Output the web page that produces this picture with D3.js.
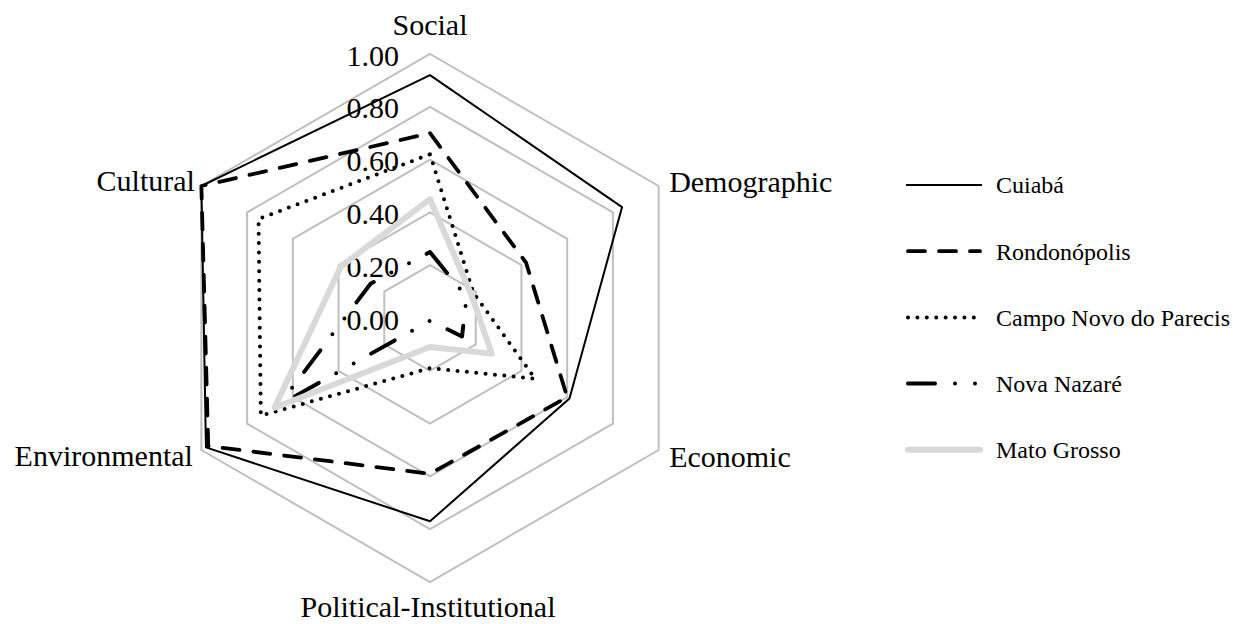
<!DOCTYPE html>
<html>
<head>
<meta charset="utf-8">
<script src="https://cdn.jsdelivr.net/npm/d3@7"></script>
<style>
  body { margin: 0; background: #fff; }
  text { font-family: "Liberation Serif", "Times New Roman", serif; fill: #000; }
</style>
</head>
<body>
<div id="chart"></div>
<script>
// data
const axes = ['Social', 'Demographic', 'Economic', 'Political-Institutional', 'Environmental', 'Cultural']
const tickValues = [0, 0.2, 0.4, 0.6, 0.8, 1.0]
const seriesNames = ['Cuiabá', 'Rondonópolis', 'Campo Novo do Parecis', 'Nova Nazaré', 'Mato Grosso']
const cuiaba = [0.92, 0.84, 0.61, 0.77, 0.98, 1.00]
const rondonopolis = [0.70, 0.42, 0.60, 0.59, 0.97, 1.00]
const campoNovo = [0.62, 0.19, 0.46, 0.19, 0.74, 0.75]
const novaNazare = [0.25, 0.16, 0.14, 0.01, 0.66, 0.26]
const matoGrosso = [0.45, 0.18, 0.27, 0.11, 0.68, 0.39]

const seriesValues = [cuiaba, rondonopolis, campoNovo, novaNazare, matoGrosso]

// how each series is drawn (Excel-like line styles)
const styles = [
  { color: '#000', width: 2, dash: null, cap: 'butt' },
  { color: '#000', width: 3.8, dash: '17,14', cap: 'round' },
  { color: '#000', width: 4, dash: '0,9.4', cap: 'round' },
  { color: '#000', width: 4, dash: '27,20,0,20,0,20', cap: 'round' },
  { color: '#d9d9d9', width: 6, dash: null, cap: 'round' }
]

var width = 1235, height = 624
var cx = 430, cy = 318

var svg = d3.select('#chart').append('svg')
    .attr('width', width)
    .attr('height', height)

var r = d3.scaleLinear().domain([0, 1]).range([0, 264])
var angle = d3.scaleLinear().domain([0, axes.length]).range([0, 2 * Math.PI])

var g = svg.append('g').attr('transform', 'translate(' + cx + ',' + cy + ')')

var radial = d3.lineRadial()
    .angle((d, i) => angle(i))
    .radius(d => r(d))
    .curve(d3.curveLinearClosed)

// grid rings
g.selectAll('.ring')
  .data(tickValues.filter(t => t > 0))
  .enter().append('path')
    .attr('class', 'ring')
    .attr('d', t => radial(axes.map(() => t)))
    .attr('fill', 'none')
    .attr('stroke', '#bfbfbf')
    .attr('stroke-width', 2)

// tick labels along the Social axis
g.selectAll('.tick')
  .data(tickValues)
  .enter().append('text')
    .attr('x', -31)
    .attr('y', t => -r(t) + 11.5)
    .attr('text-anchor', 'end')
    .style('font-size', '30px')
    .text(t => t.toFixed(2))

// series
g.selectAll('.series')
  .data(seriesValues)
  .enter().append('path')
    .attr('class', 'series')
    .attr('d', d => radial(d))
    .attr('fill', 'none')
    .attr('stroke', (d, i) => styles[i].color)
    .attr('stroke-width', (d, i) => styles[i].width)
    .attr('stroke-dasharray', (d, i) => styles[i].dash)
    .attr('stroke-linecap', (d, i) => styles[i].cap)
    .attr('stroke-linejoin', 'round')

// axis labels, placed from the outer vertex
var labelPos = [
  { dx: 0, dy: -19, anchor: 'middle' },
  { dx: 10.5, dy: 6, anchor: 'start' },
  { dx: 10.5, dy: 16.5, anchor: 'start' },
  { dx: -2, dy: 35, anchor: 'middle' },
  { dx: -8.5, dy: 16, anchor: 'end' },
  { dx: -6.5, dy: 5, anchor: 'end' }
]
g.selectAll('.axis-label')
  .data(axes)
  .enter().append('text')
    .attr('x', (d, i) => r(1) * Math.sin(angle(i)) + labelPos[i].dx)
    .attr('y', (d, i) => -r(1) * Math.cos(angle(i)) + labelPos[i].dy)
    .attr('text-anchor', (d, i) => labelPos[i].anchor)
    .style('font-size', '30px')
    .text(d => d)

// legend
var legend = svg.append('g').attr('transform', 'translate(906,185)')
var rows = legend.selectAll('.row')
  .data(seriesNames)
  .enter().append('g')
    .attr('transform', (d, i) => 'translate(0,' + (i * 66.2) + ')')

rows.append('line')
    .attr('x1', (d, i) => i == 0 ? 0 : 2)
    .attr('x2', (d, i) => i == 0 ? 76 : 74)
    .attr('y1', 0).attr('y2', 0)
    .attr('stroke', (d, i) => styles[i].color)
    .attr('stroke-width', (d, i) => styles[i].width)
    .attr('stroke-dasharray', (d, i) => styles[i].dash)
    .attr('stroke-linecap', (d, i) => styles[i].cap)

rows.append('text')
    .attr('x', 90)
    .attr('y', 8.3)
    .style('font-size', '24px')
    .text(d => d)
</script>
</body>
</html>
